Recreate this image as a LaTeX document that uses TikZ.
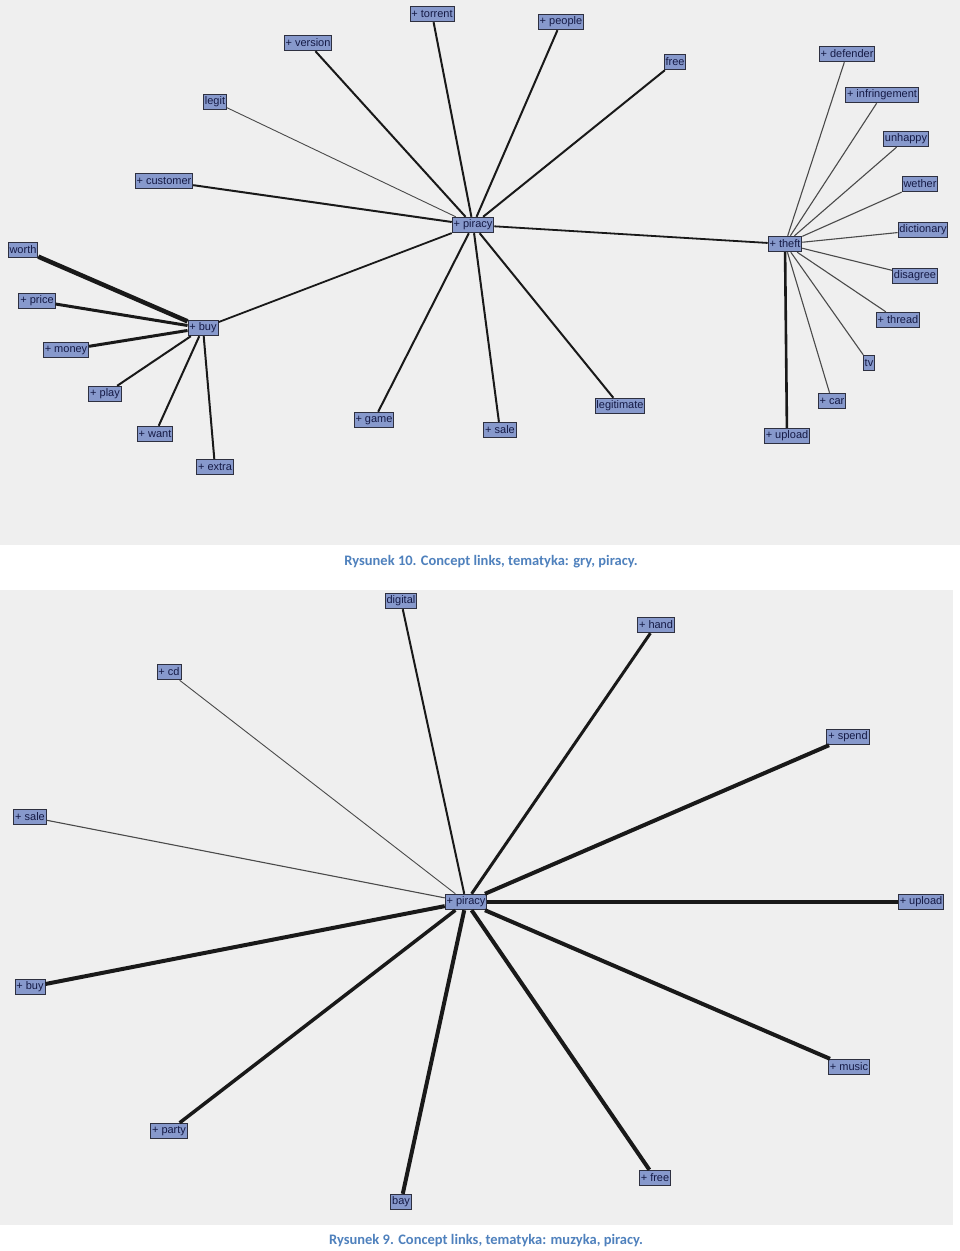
\documentclass[tikz,border=0pt]{standalone}
\usepackage{fontspec}
\setmainfont{Liberation Sans}
\newfontfamily\capfont{Carlito}
\definecolor{panelbg}{HTML}{EFEFEF}
\definecolor{nodefill}{HTML}{8799CC}
\definecolor{nodeborder}{HTML}{2E3040}
\definecolor{nodetext}{HTML}{151A45}
\definecolor{captext}{HTML}{4F81BD}
\definecolor{thinline}{HTML}{4A4A4A}
\tikzset{
  cn/.style={draw=nodeborder, line width=0.9pt, fill=nodefill, text=nodetext,
    font=\fontsize{11}{12}\selectfont, inner xsep=1.4pt, inner ysep=0pt,
    minimum height=15.5pt},
  caption/.style={font=\capfont\bfseries\fontsize{14.5}{16}\selectfont, text=captext},
  lk/.style={draw=black!90, line width=#1},
  lt/.style={draw=thinline, line width=#1},
}
\begin{document}
\begin{tikzpicture}[x=1pt,y=-1pt]
\useasboundingbox[fill=white] (0,0) rectangle (960,1251);
\fill[panelbg] (0,0) rectangle (960,545);
\fill[panelbg] (0,590) rectangle (953,1225);

% ---------- top panel nodes ----------
\node[cn] (p) at (473,225) {+ piracy};
\node[cn] (torrent) at (432,14) {+ torrent};
\node[cn] (people) at (561,22) {+ people};
\node[cn] (version) at (308,43) {+ version};
\node[cn] (free) at (675,62) {free};
\node[cn] (legit) at (215,102) {legit};
\node[cn] (customer) at (164,181) {+ customer};
\node[cn] (worth) at (23,250) {worth};
\node[cn] (price) at (37,301) {+ price};
\node[cn] (buy) at (203,328) {+ buy};
\node[cn] (money) at (66,350) {+ money};
\node[cn] (play) at (105,394) {+ play};
\node[cn] (want) at (155,434) {+ want};
\node[cn] (extra) at (215,467) {+ extra};
\node[cn] (game) at (374,420) {+ game};
\node[cn] (sale) at (500,430) {+ sale};
\node[cn] (legitimate) at (620,406) {legitimate};
\node[cn] (theft) at (785,244) {+ theft};
\node[cn] (defender) at (847,54) {+ defender};
\node[cn] (infringement) at (882,95) {+ infringement};
\node[cn] (unhappy) at (906,139) {unhappy};
\node[cn] (wether) at (920,184) {wether};
\node[cn] (dictionary) at (923,230) {dictionary};
\node[cn] (disagree) at (915,276) {disagree};
\node[cn] (thread) at (898,320) {+ thread};
\node[cn] (tv) at (869,363) {tv};
\node[cn] (car) at (832,401) {+ car};
\node[cn] (upload) at (787,436) {+ upload};

% ---------- top panel links ----------
\draw[lk=2pt] (p) -- (torrent);
\draw[lk=2pt] (p) -- (people);
\draw[lk=2pt] (p) -- (version);
\draw[lk=2pt] (p) -- (free);
\draw[lt=0.9pt] (p) -- (legit);
\draw[lk=2pt] (p) -- (customer);
\draw[lk=1.8pt] (p) -- (buy);
\draw[lk=2pt] (p) -- (game);
\draw[lk=2pt] (p) -- (sale);
\draw[lk=2pt] (p) -- (legitimate);
\draw[lk=1.8pt] (p) -- (theft);
\draw[lk=4.5pt] (buy) -- (worth);
\draw[lk=3pt] (buy) -- (price);
\draw[lk=3pt] (buy) -- (money);
\draw[lk=2pt] (buy) -- (play);
\draw[lk=2pt] (buy) -- (want);
\draw[lk=2pt] (buy) -- (extra);
\draw[lt=1.1pt] (theft) -- (defender);
\draw[lt=1.1pt] (theft) -- (infringement);
\draw[lt=1.1pt] (theft) -- (unhappy);
\draw[lt=1.1pt] (theft) -- (wether);
\draw[lt=1.1pt] (theft) -- (dictionary);
\draw[lt=1.1pt] (theft) -- (disagree);
\draw[lt=1.1pt] (theft) -- (thread);
\draw[lt=1.1pt] (theft) -- (tv);
\draw[lt=1.1pt] (theft) -- (car);
\draw[lk=2.6pt] (theft) -- (upload);

\node[caption] (cap1) at (491,562) {Rysunek 10. Concept links, tematyka: gry, piracy.};

% ---------- bottom panel nodes ----------
\node[cn] (q) at (466,902) {+ piracy};
\node[cn] (digital) at (401,601) {digital};
\node[cn] (hand) at (656,625) {+ hand};
\node[cn] (cd) at (169,672) {+ cd};
\node[cn] (spend) at (848,737) {+ spend};
\node[cn] (bsale) at (30,817) {+ sale};
\node[cn] (bupload) at (921,902) {+ upload};
\node[cn] (bbuy) at (30,987) {+ buy};
\node[cn] (music) at (849,1067) {+ music};
\node[cn] (party) at (169,1131) {+ party};
\node[cn] (bfree) at (655,1178) {+ free};
\node[cn] (bay) at (401,1202) {bay};

% ---------- bottom panel links ----------
\draw[lk=2pt] (q) -- (digital);
\draw[lk=3pt] (q) -- (hand);
\draw[lt=0.9pt] (q) -- (cd);
\draw[lk=4pt] (q) -- (spend);
\draw[lt=1.1pt] (q) -- (bsale);
\draw[lk=3.5pt] (q) -- (bupload);
\draw[lk=4pt] (q) -- (bbuy);
\draw[lk=4pt] (q) -- (music);
\draw[lk=3.5pt] (q) -- (party);
\draw[lk=4pt] (q) -- (bfree);
\draw[lk=4pt] (q) -- (bay);

\node[caption] (cap2) at (486,1241) {Rysunek 9. Concept links, tematyka: muzyka, piracy.};
\end{tikzpicture}
\end{document}
